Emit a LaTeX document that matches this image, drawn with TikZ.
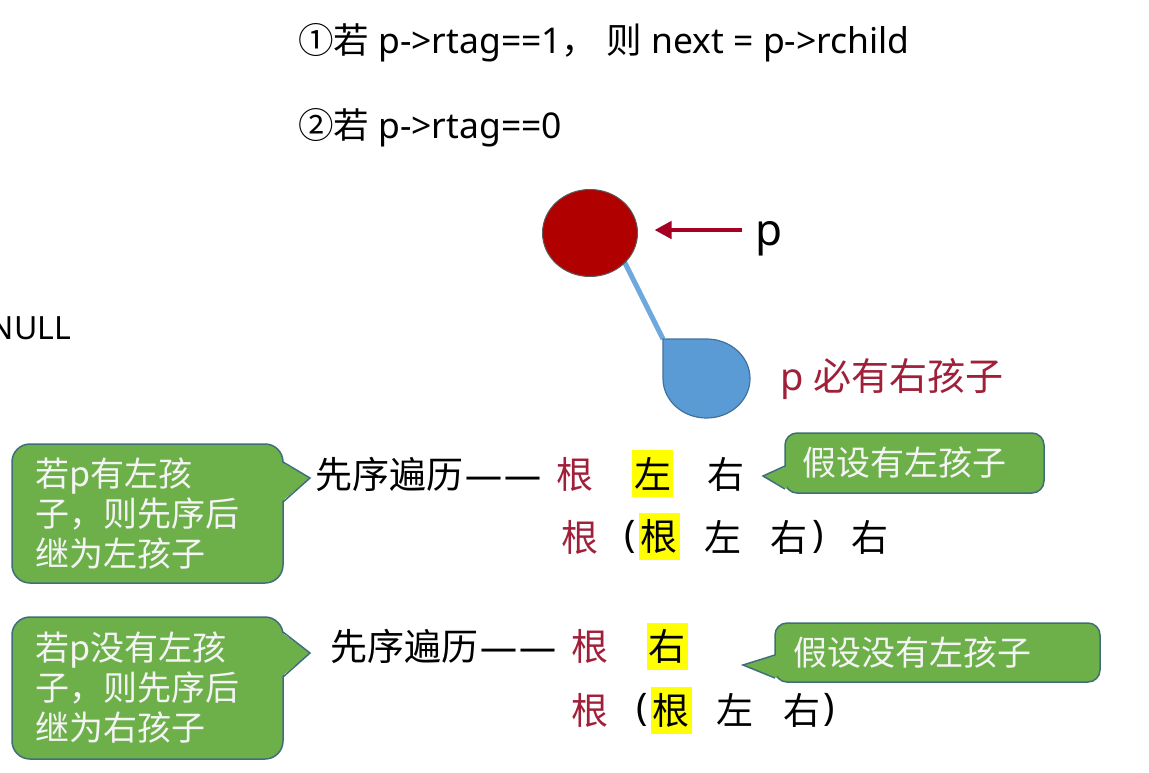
\documentclass[tikz,border=0pt]{standalone}
\usepackage{fontspec}
\setmainfont{Noto Sans}
\newfontfamily\cjk{Noto Sans CJK SC}
\usetikzlibrary{shapes.geometric,arrows.meta}
\definecolor{cred}{HTML}{B00000}
\definecolor{credline}{HTML}{5A5A5A}
\definecolor{cblue}{HTML}{5B9BD5}
\definecolor{cblueline}{HTML}{41719C}
\definecolor{clink}{HTML}{6FA8DC}
\definecolor{carrow}{HTML}{A50021}
\definecolor{ctext}{HTML}{A0203A}
\definecolor{cgreen}{HTML}{6DB04A}
\definecolor{cgreenline}{HTML}{3F6E7A}
\definecolor{chl}{HTML}{FFFF00}
\definecolor{cwhite}{HTML}{F4F4F4}
\begin{document}
\begin{tikzpicture}[x=1pt,y=-1pt,
  every node/.style={inner sep=0pt, outer sep=0pt},
  toptxt/.style={font=\fontsize{35.5}{40}\selectfont},
  rowtxt/.style={font=\cjk\fontsize{37}{40}\selectfont, text=black},
  redtxt/.style={rowtxt, text=ctext},
  partxt/.style={font=\fontsize{38}{40}\selectfont, text=black},
  hltxt/.style={rowtxt, fill=chl, minimum width=41, minimum height=47},
  bigbubble/.style={draw=cgreenline, fill=cgreen, line width=1.5pt, rounded corners=18,
    text=cwhite, font=\cjk\fontsize{34}{40}\selectfont, align=left,
    minimum width=271, text width=225},
  smallbubble/.style={draw=cgreenline, fill=cgreen, line width=1.5pt, rounded corners=12,
    text=cwhite, font=\cjk\fontsize{34}{40}\selectfont, align=left, minimum height=60},
  pointerfill/.style={fill=cgreen},
  pointerdraw/.style={draw=cgreenline, line width=1.5pt, line join=miter},
  arrowred/.style={draw=carrow, line width=4.5pt, -{Triangle[length=17pt,width=17pt]}},
  link/.style={draw=clink, line width=5pt}
]
\useasboundingbox (0,0) rectangle (1149,772);
\fill[white] (0,0) rectangle (1149,772);

% top text
\node[toptxt, anchor=west] (l1) at (298,43) {{\cjk ①若} p->rtag==1{\cjk ，} {\cjk 则} next = p->rchild};
\node[toptxt, anchor=west] (l2) at (298,128) {{\cjk ②若} p->rtag==0};
\node[font=\fontsize{32}{36}\selectfont, anchor=east] (null) at (71,328) {NULL};

% tree
\coordinate (child) at (663,339);
\node[ellipse, minimum width=95, minimum height=87] (rootpos) at (590,233) {};
\draw[link] ([shift={(25,10)}]rootpos.center) -- (child);
\node[ellipse, draw=credline, fill=cred, line width=1pt, minimum width=95, minimum height=87] (root) at (590,233) {};
\draw[draw=cblueline, fill=cblue, line width=1.2pt] (child) -- (706.5,339)
  arc[start angle=-90, end angle=180, x radius=43.5, y radius=39.5] -- cycle;
\node[font=\fontsize{44}{48}\selectfont, anchor=base west] (plabel) at (755,245) {p};
\coordinate (pstart) at (742,230);
\draw[arrowred, shorten >=17pt] (pstart) -- (root.east |- pstart);
\node[font=\fontsize{38}{40}\selectfont, text=ctext, anchor=base west] (must) at (780,390) {p {\cjk 必有右孩子}};

% callout 1
\node[bigbubble, minimum height=139] (b1) at (147.5,513.5) {若p有左孩\\子，则先序后\\继为左孩子};
\fill[pointerfill] (281,462) -- (310,478) -- (281,502) -- cycle;
\draw[pointerdraw] (283,462) -- (310,478) -- (283,502);

% callout 2
\node[bigbubble, minimum height=142] (b2) at (147.5,688) {若p没有左孩\\子，则先序后\\继为右孩子};
\fill[pointerfill] (281,632) -- (310,653) -- (281,677) -- cycle;
\draw[pointerdraw] (283,632) -- (310,653) -- (283,677);

% callout 3
\node[smallbubble, minimum width=259, text width=225] (b3) at (914.5,463) {假设有左孩子};
\fill[pointerfill] (787,466) -- (763,476) -- (787,489) -- cycle;
\draw[pointerdraw] (785,466) -- (763,476) -- (785,489);

% callout 4
\node[smallbubble, minimum width=325, minimum height=59, text width=289] (b4) at (937.5,652.5) {假设没有左孩子};
\fill[pointerfill] (777,655) -- (743,665) -- (777,678) -- cycle;
\draw[pointerdraw] (775,655) -- (743,665) -- (775,678);

% row 1
\node[rowtxt, anchor=west] (r1a) at (315,474) {先序遍历{\rmfamily\hspace{2pt}—\hspace{2pt}—}};
\node[redtxt] (r1b) at (575,474) {根};
\node[hltxt] (r1c) at (652.5,473.5) {左};
\node[rowtxt] (r1d) at (726,474) {右};
% row 2
\node[redtxt] (r2a) at (580,537) {根};
\node[partxt] (r2b) at (630,537) {(};
\node[hltxt] (r2c) at (659,536) {根};
\node[rowtxt] (r2d) at (723,537) {左};
\node[rowtxt] (r2e) at (789,537) {右};
\node[partxt] (r2f) at (818,537) {)};
\node[rowtxt] (r2g) at (870,537) {右};
% row 3
\node[rowtxt, anchor=west] (r3a) at (330,646) {先序遍历{\rmfamily\hspace{2pt}—\hspace{2pt}—}};
\node[redtxt] (r3b) at (590,646) {根};
\node[hltxt] (r3c) at (667,646) {右};
% row 4
\node[redtxt] (r4a) at (590,710) {根};
\node[partxt] (r4b) at (642,710) {(};
\node[hltxt] (r4c) at (671,710) {根};
\node[rowtxt] (r4d) at (735,710) {左};
\node[rowtxt] (r4e) at (802,710) {右};
\node[partxt] (r4f) at (829,710) {)};
\end{tikzpicture}
\end{document}
